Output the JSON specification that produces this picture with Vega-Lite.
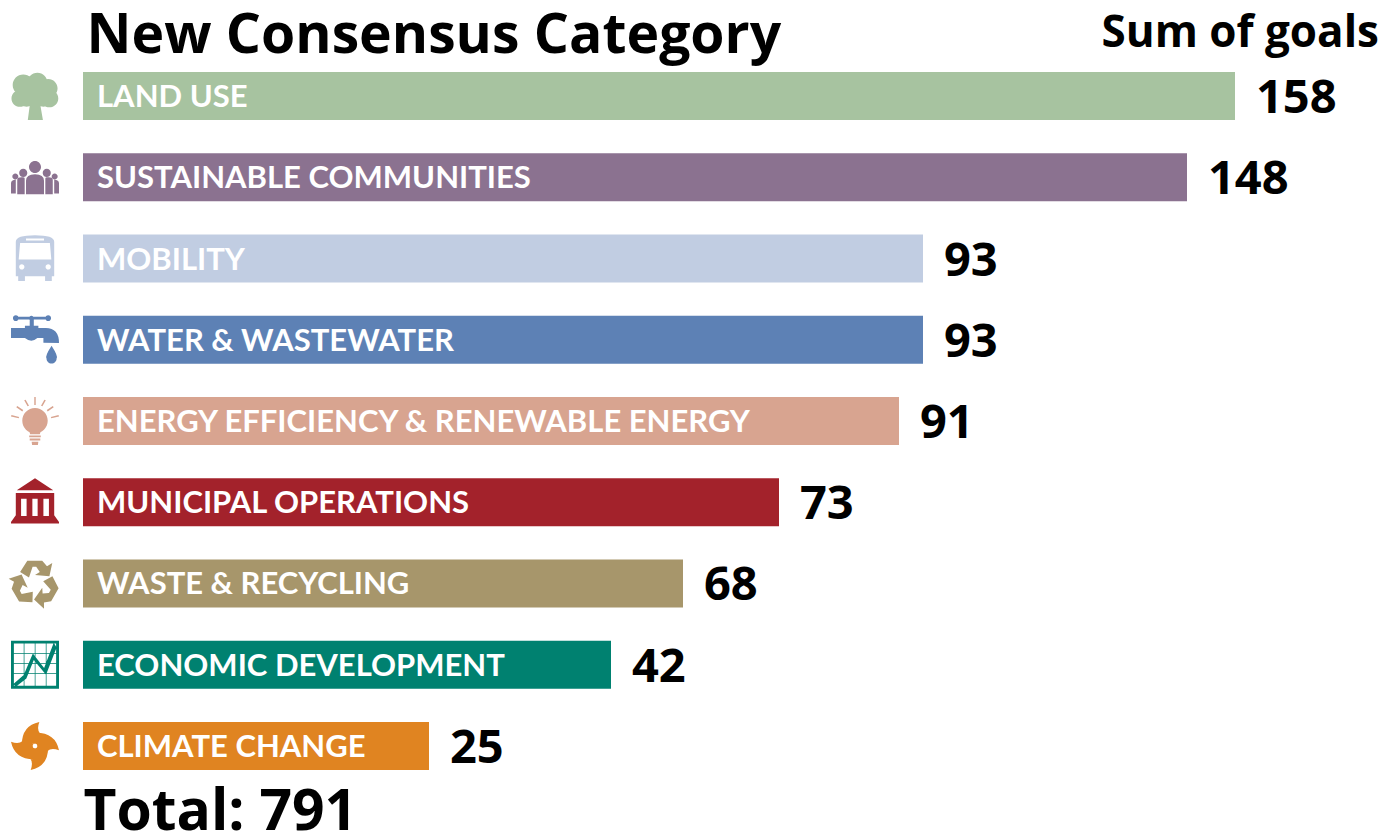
{
"$schema":"https://vega.github.io/schema/vega-lite/v6.json",
"width":1396,"height":834,"padding":0,
"autosize":{"type":"fit","contains":"padding"},
"background":"white",
"config":{"view":{"stroke":null}},
"data":{"values":[
{"category":"LAND USE","goals":158},
{"category":"SUSTAINABLE COMMUNITIES","goals":148},
{"category":"MOBILITY","goals":93},
{"category":"WATER & WASTEWATER","goals":93},
{"category":"ENERGY EFFICIENCY & RENEWABLE ENERGY","goals":91},
{"category":"MUNICIPAL OPERATIONS","goals":73},
{"category":"WASTE & RECYCLING","goals":68},
{"category":"ECONOMIC DEVELOPMENT","goals":42},
{"category":"CLIMATE CHANGE","goals":25}
]},
"resolve":{"axis":{"x":"independent"}},
"encoding":{
"y":{"field":"category","type":"nominal","sort":null,
"scale":{"domain":["LAND USE","SUSTAINABLE COMMUNITIES","MOBILITY","WATER & WASTEWATER","ENERGY EFFICIENCY & RENEWABLE ENERGY","MUNICIPAL OPERATIONS","WASTE & RECYCLING","ECONOMIC DEVELOPMENT","CLIMATE CHANGE"],"range":[55.4,786.6],"paddingInner":0,"paddingOuter":0},
"axis":{"labels":false,"ticks":false,"domain":false,"grid":false,"title":"Total: 791","titleAngle":0,"titleAlign":"left","titleBaseline":"alphabetic","titleX":83,"titleY":829,"titleFont":"Open Sans","titleFontWeight":"bold","titleFontSize":57,"titleColor":"#000000"}},
"color":{"field":"category","type":"nominal","legend":null,
"scale":{"domain":["LAND USE","SUSTAINABLE COMMUNITIES","MOBILITY","WATER & WASTEWATER","ENERGY EFFICIENCY & RENEWABLE ENERGY","MUNICIPAL OPERATIONS","WASTE & RECYCLING","ECONOMIC DEVELOPMENT","CLIMATE CHANGE"],
"range":["#A7C3A0","#8B7290","#C1CDE2","#5D81B5","#D8A490","#A3222B","#A7966B","#008170","#E08421"]}}
},
"layer":[
{"mark":{"type":"bar","height":48},
"encoding":{"x":{"field":"goals","type":"quantitative","stack":null,
"scale":{"type":"linear","domain":[-5,0,25,42,68,73,91,93,148,158],"range":[35,83,429,611,683,779,899,923,1187,1235],"nice":false,"zero":false},
"axis":{"orient":"top","labels":false,"ticks":false,"domain":false,"grid":false,"title":"New Consensus Category","titleAlign":"left","titleBaseline":"alphabetic","titleX":86,"titleY":52,"titleFont":"Open Sans","titleFontWeight":"bold","titleFontSize":55.3,"titleColor":"#000000","titleLimit":1000}}}},
{"mark":{"type":"text","align":"left","baseline":"middle","dx":14,"dy":2,"font":"Lato","fontWeight":"bold","fontSize":31,"color":"white"},
"encoding":{"x":{"datum":0,"type":"quantitative","axis":null},"text":{"field":"category"},"color":{"value":"#ffffff"}}},
{"mark":{"type":"text","align":"left","baseline":"middle","dx":21,"dy":3,"font":"Open Sans","fontWeight":"bold","fontSize":47,"color":"#000000"},
"encoding":{"x":{"field":"goals","type":"quantitative","stack":null,"axis":null},"text":{"field":"goals","type":"quantitative"},"color":{"value":"#000000"}}},
{"mark":{"type":"point","filled":true,"opacity":1,"size":2304},
"encoding":{"x":{"datum":-5,"type":"quantitative",
"axis":{"orient":"bottom","labels":false,"ticks":false,"domain":false,"grid":false,"title":"Sum of goals","titleAlign":"left","titleBaseline":"alphabetic","titleX":1101,"titleY":-782,"titleFont":"Open Sans","titleFontWeight":"bold","titleFontSize":44,"titleColor":"#000000"}},
"shape":{"field":"category","type":"nominal","legend":null,"scale":{"domain":["LAND USE","SUSTAINABLE COMMUNITIES","MOBILITY","WATER & WASTEWATER","ENERGY EFFICIENCY & RENEWABLE ENERGY","MUNICIPAL OPERATIONS","WASTE & RECYCLING","ECONOMIC DEVELOPMENT","CLIMATE CHANGE"],
"range":[
"M-.93 -.46a.44 .44 0 1 0 .88 0a.44 .44 0 1 0 -.88 0ZM-.32 -.55a.42 .42 0 1 0 .84 0a.42 .42 0 1 0 -.84 0ZM.16 -.32a.39 .39 0 1 0 .78 0a.39 .39 0 1 0 -.78 0ZM-.98 .1a.35 .35 0 1 0 .7 0a.35 .35 0 1 0 -.7 0ZM.23 .1a.37 .37 0 1 0 .74 0a.37 .37 0 1 0 -.74 0ZM-.55 -.11a.55 .55 0 1 0 1.1 0a.55 .55 0 1 0 -1.1 0ZM-.63 .17a.28 .28 0 1 0 .56 0a.28 .28 0 1 0 -.56 0ZM.07 .17a.28 .28 0 1 0 .56 0a.28 .28 0 1 0 -.56 0ZM-.2 .25L-.3 1L.33 1L.2 .25Z",
"M-.25 -.43a.25 .25 0 1 0 .5 0a.25 .25 0 1 0 -.5 0ZM-.66 -.18a.17 .17 0 1 0 .34 0a.17 .17 0 1 0 -.34 0ZM.32 -.18a.17 .17 0 1 0 .34 0a.17 .17 0 1 0 -.34 0ZM-.945 -.03a.125 .125 0 1 0 .25 0a.125 .125 0 1 0 -.25 0ZM.695 -.03a.125 .125 0 1 0 .25 0a.125 .125 0 1 0 -.25 0ZM-.375 .15L-.375 .71L.375 .71L.375 .15Q.375 -.125 0 -.125Q-.375 -.125 -.375 .15ZM-.74 .1L-.74 .71L-.43 .71L-.43 .05Q-.43 0 -.5 0Q-.74 -.02 -.74 .1ZM.43 .05L.43 .71L.74 .71L.74 .1Q.74 -.02 .5 0Q.43 0 .43 .05ZM-1 .25L-1 .68L-.8 .68L-.8 .1Q-1 .1 -1 .25ZM.8 .1L.8 .68L1 .68L1 .25Q1 .1 .8 .1Z",
"M-.8 -.7L-.8 .74L.8 .74L.8 -.7Q.8 -.97 0 -.97Q-.8 -.97 -.8 -.7ZM-.62 -.65L.62 -.65L.68 .04L-.68 .04ZM-.375 -.83L.375 -.83L.375 -.75L-.375 -.75ZM-.66 .35a.11 .11 0 1 1 .22 0a.11 .11 0 1 1 -.22 0ZM.44 .35a.11 .11 0 1 1 .22 0a.11 .11 0 1 1 -.22 0ZM-.7 .7L-.7 .94L-.42 .94L-.42 .7ZM.42 .7L.42 .94L.7 .94L.7 .7Z",
"M-.82 -.96L-.82 -.84L.52 -.84L.52 -.96ZM-.92 -.9a.12 .12 0 1 0 .24 0a.12 .12 0 1 0 -.24 0ZM.43 -.9a.12 .12 0 1 0 .24 0a.12 .12 0 1 0 -.24 0ZM-.25 -.9a.1 .1 0 1 0 .2 0a.1 .1 0 1 0 -.2 0ZM-.22 -.9L-.22 -.55L-.05 -.55L-.05 -.9ZM-.42 -.58L-.42 -.45L.14 -.45L.14 -.58ZM-1 -.49L-1 -.07L-.42 -.07Q-.15 .15 .1 -.07L.35 -.07L.35 .12L1 .14Q1 -.49 .45 -.49ZM.69 .25Q.4 .7 .48 .78a.21 .21 0 1 0 .42 0Q.98 .7 .69 .25Z",
"M-.53 -.01a.53 .53 0 1 0 1.06 0a.53 .53 0 1 0 -1.06 0ZM-.25 .4L-.2 .55L.2 .55L.25 .4ZM-.24 .6L-.24 .68L.24 .68L.24 .6ZM-.22 .73L-.22 .81L.22 .81L.22 .73ZM-.14 .86L-.12 1L.12 1L.14 .86ZM-.03 -1L-.03 -.67L.03 -.67L.03 -1ZM-.45 -.86L-.31 -.61L-.25 -.64L-.39 -.89ZM.39 -.89L.25 -.64L.31 -.61L.45 -.86ZM-.78 -.57L-.53 -.4L-.49 -.46L-.74 -.63ZM.74 -.63L.49 -.46L.53 -.4L.78 -.57ZM-1 -.19L-.68 -.11L-.66 -.17L-.98 -.25ZM.98 -.25L.66 -.17L.68 -.11L1 -.19Z",
"M0 -1L-.76 -.5L.76 -.5ZM-.8 -.39L-.8 .54L-1 .82L-1 .89L1 .89L1 .82L.8 .54L.8 -.39ZM-.58 -.15L-.35 -.15L-.35 .57L-.58 .57ZM-.11 -.15L.11 -.15L.11 .57L-.11 .57ZM.35 -.15L.58 -.15L.58 .57L.35 .57Z",
"M-.62 -.48L-.32 -.95L.3 -.95L.5 -.72L.72 -.85L.6 -.3L0 -.35L.2 -.48L.05 -.7L-.1 -.7L-.25 -.25ZM.726 -.297L.983 .198L.673 .735L.374 .793L.376 1.049L-.04 .67L.303 .175L.316 .413L.581 .393L.656 .263L.342 -.092ZM-.106 .777L-.663 .752L-.973 .215L-.874 -.073L-1.096 -.199L-.56 -.37L-.303 .175L-.516 .067L-.631 .307L-.556 .437L-.092 .342Z",
"M-1 -1L-1 1L1 1L1 -1ZM-.88 -.88L.88 -.88L.88 .88L-.88 .88ZM-.47 -.88L-.47 .88L-.44 .88L-.44 -.88ZM-.01 -.88L-.01 .88L.02 .88L.02 -.88ZM.45 -.88L.45 .88L.48 .88L.48 -.88ZM-.88 -.48L-.88 -.45L.88 -.45L.88 -.48ZM-.88 -.06L-.88 -.03L.88 -.03L.88 -.06ZM-.88 .36L-.88 .39L.88 .39L.88 .36ZM-.9 .8L-.8 .92L-.36 .57L-.05 -.2L.46 .42L.9 -.72L.78 -.92L.38 .14L-.09 -.47L-.47 .43Z",
"M.18 -1Q-.55 -.85 -.55 -.05L.1 -.1L.45 -.4Q0 -.5 .18 -1ZM1 .18Q.85 -.55 .05 -.55L.1 .1L.4 .45Q.5 0 1 .18ZM-.18 1Q.55 .85 .55 .05L-.1 .1L-.45 .4Q0 .5 -.18 1ZM-1 -.18Q-.85 .55 -.05 .55L-.1 -.1L-.4 -.45Q-.5 0 -1 -.18ZM-.48 0a.48 .48 0 1 0 .96 0a.48 .48 0 1 0 -.96 0ZM-.1 0a.1 .1 0 1 1 .2 0a.1 .1 0 1 1 -.2 0Z"
]}}}}
]
}
